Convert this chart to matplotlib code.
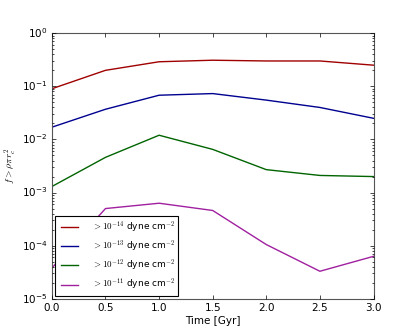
import matplotlib
matplotlib.use("Agg")
import matplotlib.pyplot as plt

time = [0.0, 0.5, 1.0, 1.5, 2.0, 2.5, 3.0]
f14 = [0.09, 0.20, 0.29, 0.31, 0.30, 0.30, 0.25]
f13 = [0.017, 0.037, 0.068, 0.073, 0.055, 0.040, 0.025]
f12 = [0.0013, 0.0046, 0.0120, 0.0065, 0.0027, 0.0021, 0.0020]
f11 = [3.8e-5, 5.0e-4, 6.3e-4, 4.6e-4, 1.05e-4, 3.3e-5, 6.3e-5]

labels = [r"$>10^{-14}$ dyne cm$^{-2}$",
          r"$>10^{-13}$ dyne cm$^{-2}$",
          r"$>10^{-12}$ dyne cm$^{-2}$",
          r"$>10^{-11}$ dyne cm$^{-2}$"]
colors = ["#a00000", "#000090", "#006400", "#a020a0"]

plt.style.use("classic")
plt.rcParams["font.family"] = "DejaVu Sans"

fig = plt.figure(figsize=(4.15, 3.32), dpi=100)
ax = fig.add_axes([0.125, 0.1, 0.775, 0.8])

for y, lab, c in zip([f14, f13, f12, f11], labels, colors):
    ax.plot(time, y, color=c, lw=1.0, label=lab)

ax.set_yscale("log")
ax.set_ylim(1e-5, 1)
ax.set_xlim(0, 3)
ax.set_xticks([0, 0.5, 1.0, 1.5, 2.0, 2.5, 3.0])
ax.tick_params(labelsize=7.5, length=3, pad=3)
ax.tick_params(which="minor", length=1.5)
ax.set_xlabel("Time [Gyr]", fontsize=7.5, labelpad=2)
ax.set_ylabel(r"$f>\rho\pi r_c^2$", fontsize=7, labelpad=2)
for s in ax.spines.values():
    s.set_color("#555555")
    s.set_linewidth(0.8)

leg = ax.legend(loc="lower left", fontsize=6.5, handlelength=2.5, borderaxespad=0.3,
                labelspacing=0.45, frameon=True, handletextpad=1.2)
leg.get_frame().set_linewidth(0.8)

fig.savefig("out.png", dpi=100)
